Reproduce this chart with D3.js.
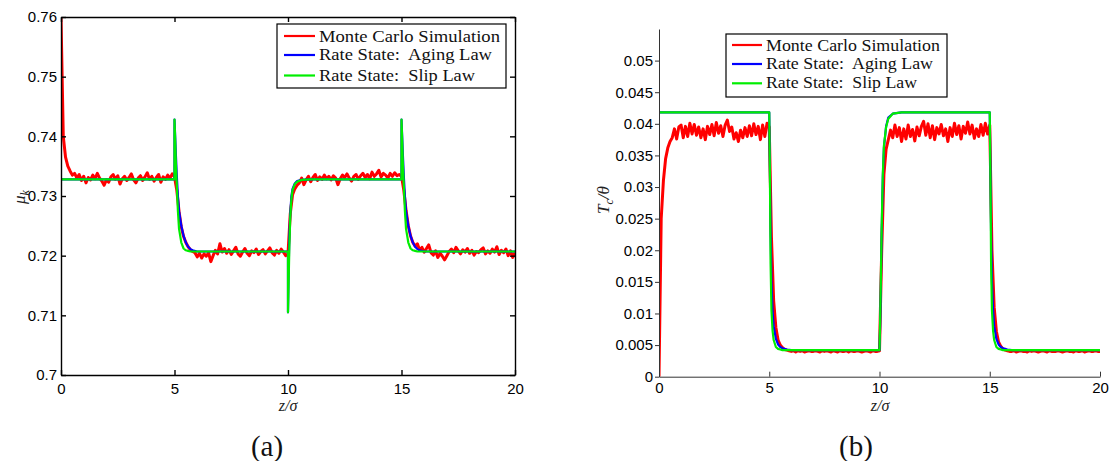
<!DOCTYPE html>
<html><head><meta charset="utf-8">
<script src="https://cdn.jsdelivr.net/npm/d3@7"></script>
<style>body{margin:0;background:#fff}</style>
</head><body>
<svg id="c" width="1111" height="461"></svg>
<script>
// ---------- DATA ----------
const zTicks = [0, 5, 10, 15, 20];
const zTickLabels = ["0", "5", "10", "15", "20"];
const muTicks = [0.70, 0.71, 0.72, 0.73, 0.74, 0.75, 0.76];
const muTickLabels = ["0.7", "0.71", "0.72", "0.73", "0.74", "0.75", "0.76"];
const tcTicks = [0, 0.005, 0.01, 0.015, 0.02, 0.025, 0.03, 0.035, 0.04, 0.045, 0.05];
const tcTickLabels = ["0", "0.005", "0.01", "0.015", "0.02", "0.025", "0.03", "0.035", "0.04", "0.045", "0.05"];
const legendLabels = ["Monte Carlo Simulation", "Rate State:  Aging Law", "Rate State:  Slip Law"];
const seriesColors = ["#ff0000", "#0000ff", "#00ee00"];

// Monte Carlo series sampled every 0.1 in z/sigma (z = 0 ... 20)
const mcStep = 0.1;
const muMC = [
 0.7600,0.7400,0.7365,0.7350,0.7342,0.7335,0.7338,0.7330,0.7336,0.7326,
 0.7333,0.7322,0.7331,0.7327,0.7335,0.7329,0.7338,0.7330,0.7325,0.7318,
 0.7327,0.7323,0.7332,0.7336,0.7328,0.7334,0.7320,0.7329,0.7333,0.7326,
 0.7331,0.7337,0.7327,0.7322,0.7330,0.7334,0.7326,0.7332,0.7339,0.7328,
 0.7333,0.7325,0.7331,0.7336,0.7323,0.7332,0.7328,0.7335,0.7330,0.7337,
 0.7332,0.7310,0.7274,0.7248,0.7232,0.7222,0.7215,0.7210,0.7207,0.7205,
 0.7198,0.7204,0.7196,0.7203,0.7199,0.7205,0.7190,0.7200,0.7209,0.7203,
 0.7220,0.7206,0.7212,0.7204,0.7210,0.7202,0.7208,0.7214,0.7203,0.7199,
 0.7206,0.7212,0.7204,0.7200,0.7208,0.7205,0.7211,0.7202,0.7207,0.7210,
 0.7203,0.7208,0.7213,0.7205,0.7201,0.7209,0.7204,0.7211,0.7206,0.7200,
 0.7203,0.7270,0.7302,0.7312,0.7318,0.7322,0.7330,0.7319,0.7327,0.7333,
 0.7324,0.7331,0.7336,0.7326,0.7332,0.7328,0.7335,0.7329,0.7333,0.7327,
 0.7334,0.7330,0.7319,0.7329,0.7335,0.7331,0.7337,0.7330,0.7325,0.7333,
 0.7336,0.7328,0.7334,0.7338,0.7331,0.7336,0.7329,0.7340,0.7333,0.7337,
 0.7343,0.7332,0.7338,0.7335,0.7330,0.7338,0.7333,0.7339,0.7334,0.7336,
 0.7333,0.7310,0.7276,0.7250,0.7233,0.7222,0.7216,0.7220,0.7209,0.7214,
 0.7206,0.7212,0.7218,0.7205,0.7201,0.7208,0.7197,0.7204,0.7199,0.7193,
 0.7200,0.7207,0.7211,0.7205,0.7214,0.7208,0.7203,0.7210,0.7206,0.7212,
 0.7204,0.7209,0.7201,0.7207,0.7205,0.7210,0.7213,0.7203,0.7208,0.7204,
 0.7211,0.7206,0.7215,0.7202,0.7209,0.7205,0.7211,0.7200,0.7208,0.7197,
 0.7205
];
const tcMC = [
 0.0000,0.0250,0.0310,0.0345,0.0362,0.0372,0.0378,0.0392,0.0376,0.0395,
 0.0398,0.0378,0.0396,0.0380,0.0401,0.0384,0.0399,0.0382,0.0395,0.0378,
 0.0392,0.0375,0.0396,0.0383,0.0399,0.0381,0.0402,0.0385,0.0397,0.0380,
 0.0398,0.0406,0.0388,0.0395,0.0376,0.0386,0.0372,0.0390,0.0378,0.0394,
 0.0380,0.0397,0.0381,0.0400,0.0383,0.0396,0.0375,0.0398,0.0380,0.0401,
 0.0395,0.0220,0.0120,0.0078,0.0058,0.0050,0.0046,0.0043,0.0042,0.0041,
 0.0040,0.0041,0.0039,0.0041,0.0040,0.0041,0.0039,0.0040,0.0041,0.0040,
 0.0040,0.0041,0.0040,0.0039,0.0041,0.0040,0.0041,0.0040,0.0039,0.0041,
 0.0040,0.0039,0.0041,0.0040,0.0040,0.0041,0.0039,0.0041,0.0040,0.0040,
 0.0041,0.0040,0.0039,0.0040,0.0041,0.0040,0.0039,0.0041,0.0040,0.0040,
 0.0041,0.0200,0.0320,0.0360,0.0375,0.0390,0.0378,0.0398,0.0380,0.0394,
 0.0372,0.0392,0.0376,0.0398,0.0380,0.0391,0.0373,0.0395,0.0381,0.0396,
 0.0404,0.0382,0.0400,0.0378,0.0397,0.0375,0.0394,0.0384,0.0399,0.0381,
 0.0392,0.0372,0.0394,0.0380,0.0401,0.0383,0.0397,0.0376,0.0396,0.0385,
 0.0403,0.0384,0.0398,0.0377,0.0392,0.0380,0.0399,0.0382,0.0401,0.0384,
 0.0398,0.0200,0.0110,0.0072,0.0055,0.0048,0.0044,0.0042,0.0041,0.0040,
 0.0040,0.0041,0.0039,0.0040,0.0041,0.0040,0.0040,0.0039,0.0041,0.0040,
 0.0041,0.0040,0.0039,0.0040,0.0041,0.0040,0.0039,0.0041,0.0040,0.0040,
 0.0040,0.0041,0.0040,0.0039,0.0040,0.0041,0.0040,0.0040,0.0039,0.0041,
 0.0040,0.0040,0.0041,0.0039,0.0040,0.0041,0.0040,0.0040,0.0041,0.0040,
 0.0040
];

// Rate-state model curves, sampled at these z/sigma knots
const modelZ = [0, 4.999, 5, 5.03, 5.06, 5.1, 5.15, 5.2, 5.3, 5.4, 5.5, 5.6, 5.7, 5.8, 6,
  9.999, 10, 10.03, 10.06, 10.1, 10.15, 10.2, 10.3, 10.4, 10.6, 11,
  14.999, 15, 15.03, 15.06, 15.1, 15.15, 15.2, 15.3, 15.4, 15.5, 15.6, 15.7, 15.8, 16, 20];
const muAging = [0.7328, 0.7328, 0.7428, 0.7400, 0.7370, 0.7335, 0.7300, 0.7275, 0.7250, 0.7233, 0.7222, 0.7215, 0.7211, 0.7209, 0.7207,
  0.7207, 0.7105, 0.7180, 0.7232, 0.7272, 0.7300, 0.7312, 0.7321, 0.7325, 0.7327, 0.7328,
  0.7328, 0.7428, 0.7400, 0.7370, 0.7335, 0.7300, 0.7275, 0.7250, 0.7233, 0.7222, 0.7215, 0.7211, 0.7209, 0.7207, 0.7207];
const muSlip = [0.7328, 0.7328, 0.7428, 0.7395, 0.7355, 0.7320, 0.7275, 0.7245, 0.7222, 0.7212, 0.7209, 0.7208, 0.7207, 0.7207, 0.7207,
  0.7207, 0.7105, 0.7160, 0.7215, 0.7265, 0.7295, 0.7310, 0.7320, 0.7324, 0.7327, 0.7328,
  0.7328, 0.7428, 0.7395, 0.7355, 0.7320, 0.7275, 0.7245, 0.7222, 0.7212, 0.7209, 0.7208, 0.7207, 0.7207, 0.7207, 0.7207];
const tcAging = [0.0418, 0.0418, 0.0418, 0.0330, 0.0230, 0.0150, 0.0105, 0.0080, 0.0060, 0.0051, 0.0047, 0.0045, 0.0044, 0.0043, 0.0042,
  0.0042, 0.0042, 0.0080, 0.0140, 0.0230, 0.0315, 0.0362, 0.0396, 0.0410, 0.0416, 0.0418,
  0.0418, 0.0418, 0.0330, 0.0230, 0.0150, 0.0105, 0.0080, 0.0060, 0.0051, 0.0047, 0.0045, 0.0044, 0.0043, 0.0042, 0.0042];
const tcSlip = [0.0418, 0.0418, 0.0418, 0.0320, 0.0180, 0.0105, 0.0073, 0.0058, 0.0047, 0.0044, 0.0043, 0.0042, 0.0042, 0.0042, 0.0042,
  0.0042, 0.0042, 0.0090, 0.0150, 0.0240, 0.0320, 0.0365, 0.0395, 0.0408, 0.0416, 0.0418,
  0.0418, 0.0418, 0.0320, 0.0180, 0.0105, 0.0073, 0.0058, 0.0047, 0.0044, 0.0043, 0.0042, 0.0042, 0.0042, 0.0042, 0.0042];

// ---------- DRAWING ----------
const svg = d3.select("#c");
const tickFont = "'Liberation Sans', Arial, sans-serif";
const serif = "'Liberation Serif', 'Times New Roman', serif";

function panel(o) {
  const x = d3.scaleLinear().domain([0, 20]).range([o.x0, o.x1]);
  const y = d3.scaleLinear().domain(o.yDomain).range([o.y0, o.y1]);
  const g = svg.append("g");

  const clipId = "clip" + o.id;
  svg.append("clipPath").attr("id", clipId).append("rect")
    .attr("x", o.x0).attr("y", o.y1).attr("width", o.x1 - o.x0).attr("height", o.y0 - o.y1);

  const line = d3.line().x(d => x(d[0])).y(d => y(d[1]));
  const plot = g.append("g").attr("clip-path", `url(#${clipId})`);
  const mcPts = o.mc.map((v, i) => [i * mcStep, v]);
  plot.append("path").attr("d", line(mcPts)).attr("fill", "none")
    .attr("stroke", seriesColors[0]).attr("stroke-width", 3).attr("stroke-linejoin", "round");
  plot.append("path").attr("d", line(modelZ.map((z, i) => [z, o.aging[i]]))).attr("fill", "none")
    .attr("stroke", seriesColors[1]).attr("stroke-width", 2.2).attr("stroke-linejoin", "round");
  plot.append("path").attr("d", line(modelZ.map((z, i) => [z, o.slip[i]]))).attr("fill", "none")
    .attr("stroke", seriesColors[2]).attr("stroke-width", 2.2).attr("stroke-linejoin", "round");

  // axes
  const xb = d3.axisBottom(x).tickValues(zTicks).tickFormat((d, i) => zTickLabels[i])
    .tickSizeInner(-5).tickSizeOuter(0).tickPadding(o.xPad);
  const yl = d3.axisLeft(y).tickValues(o.yTicks).tickFormat((d, i) => o.yTickLabels[i])
    .tickSizeInner(o.yTickSize).tickSizeOuter(0).tickPadding(o.yPad);
  const gx = g.append("g").attr("transform", `translate(0,${o.y0})`).call(xb);
  const gy = g.append("g").attr("transform", `translate(${o.x0},0)`).call(yl);
  [gx, gy].forEach(a => {
    a.selectAll("text").attr("font-family", tickFont).attr("font-size", 15).attr("fill", "#000");
    a.selectAll("line,path").attr("stroke", o.axisColor).attr("stroke-width", o.axisWidth);
  });
  if (o.box) {
    const xt = d3.axisTop(x).tickValues(zTicks).tickFormat("").tickSizeInner(-5).tickSizeOuter(0);
    const yr = d3.axisRight(y).tickValues(o.yTicks).tickFormat("").tickSizeInner(-5).tickSizeOuter(0);
    const gt = g.append("g").attr("transform", `translate(0,${o.y1})`).call(xt);
    const gr = g.append("g").attr("transform", `translate(${o.x1},0)`).call(yr);
    [gt, gr].forEach(a => a.selectAll("line,path").attr("stroke", o.axisColor).attr("stroke-width", o.axisWidth));
  }

  // legend
  const L = o.legend;
  g.append("rect").attr("x", L.x).attr("y", L.y).attr("width", L.w).attr("height", L.h)
    .attr("fill", "#fff").attr("stroke", "#000").attr("stroke-width", 1.2);
  legendLabels.forEach((lab, i) => {
    g.append("line").attr("x1", L.lx0).attr("x2", L.lx1).attr("y1", L.rows[i]).attr("y2", L.rows[i])
      .attr("stroke", seriesColors[i]).attr("stroke-width", 2.2);
    g.append("text").attr("x", L.tx).attr("y", L.base[i]).text(lab)
      .attr("font-family", serif).attr("font-size", 17).attr("fill", "#111")
      .attr("textLength", L.widths[i]).attr("lengthAdjust", "spacingAndGlyphs")
      .style("white-space", "pre");
  });

  // x label z/sigma
  g.append("text").attr("x", o.xLab[0]).attr("y", o.xLab[1]).attr("text-anchor", "middle")
    .attr("font-family", serif).attr("font-size", 16).attr("font-style", "italic").attr("fill", "#222")
    .text("z/σ");
  // panel letter
  g.append("text").attr("x", o.letter[0]).attr("y", o.letter[1]).attr("text-anchor", "middle")
    .attr("font-family", serif).attr("font-size", 29).attr("fill", "#111").text(o.letterText);
  // y label
  const yt = g.append("text").attr("transform", `translate(${o.yLab[0]},${o.yLab[1]}) rotate(-90)`)
    .attr("text-anchor", "middle").attr("font-family", serif).attr("font-size", 17)
    .attr("font-style", "italic").attr("fill", "#222");
  o.yLabParts.forEach(p => {
    const t = yt.append("tspan").text(p.t);
    if (p.sub) t.attr("dy", 4).attr("font-size", 12);
    if (p.up) t.attr("dy", -4);
  });
}

panel({
  id: "a", x0: 61, x1: 515, y0: 375, y1: 17, yDomain: [0.70, 0.76],
  mc: muMC, aging: muAging, slip: muSlip,
  yTicks: muTicks, yTickLabels: muTickLabels, yTickSize: -5, yPad: 4, xPad: 8,
  axisColor: "#000", axisWidth: 1.4, box: true,
  legend: { x: 277, y: 24, w: 229, h: 64, lx0: 284, lx1: 315, rows: [36, 55, 75.5], tx: 319,
            base: [42, 60, 81], widths: [181, 173, 156] },
  xLab: [288, 411], letter: [267, 456], letterText: "(a)",
  yLab: [25, 197], yLabParts: [{ t: "μ" }, { t: "k", sub: true }]
});

panel({
  id: "b", x0: 659, x1: 1100, y0: 376.7, y1: 29, yDomain: [0, 0.055],
  mc: tcMC, aging: tcAging, slip: tcSlip,
  yTicks: tcTicks, yTickLabels: tcTickLabels, yTickSize: 4, yPad: 2, xPad: 6,
  axisColor: "#333", axisWidth: 1, box: false,
  legend: { x: 726, y: 34, w: 221, h: 63, lx0: 732, lx1: 762, rows: [45, 64, 83.3], tx: 766,
            base: [51, 69, 88], widths: [174, 167, 151] },
  xLab: [880, 411], letter: [856, 456], letterText: "(b)",
  yLab: [609, 200], yLabParts: [{ t: "T" }, { t: "c", sub: true }, { t: "/θ", up: true }]
});
</script>
</body></html>
